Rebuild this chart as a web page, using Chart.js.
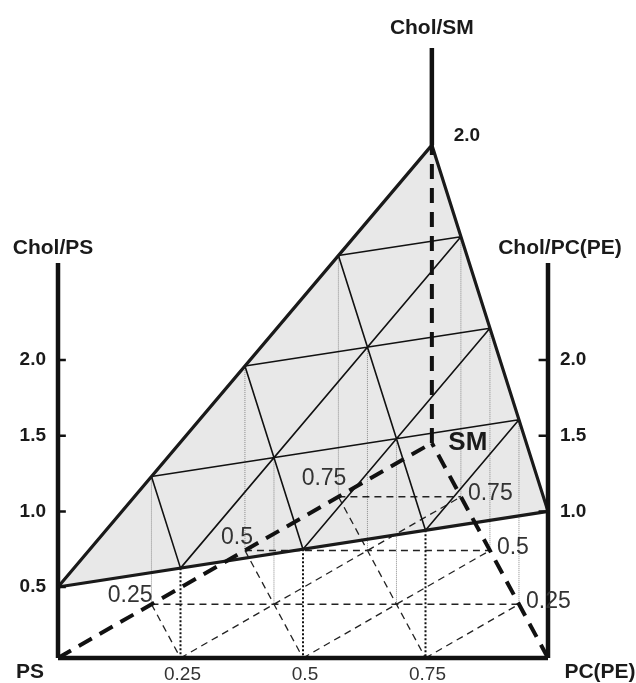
<!DOCTYPE html>
<html>
<head>
<meta charset="utf-8">
<script src="https://cdn.jsdelivr.net/npm/chart.js@4.4.1/dist/chart.umd.min.js"></script>
<style>
  html, body { margin: 0; padding: 0; background: #fff; }
  #wrap { width: 636px; height: 683px; }
</style>
</head>
<body>
<div id="wrap"><canvas id="chol-chart"></canvas></div>
<script>
// Chol/lipid ratio at the corners PS, PC(PE), SM
var cornerChol = [0.5, 1.0, 2.0];
// composition grid steps
var gridSteps = [0.25, 0.5, 0.75];
// tick values on the three Chol axes and the base
var psTicks = [0.5, 1.0, 1.5, 2.0];
var pcTicks = [1.0, 1.5, 2.0];
var smTicks = [2.0];
var baseTicks = [0.25, 0.5, 0.75];
var axisTop = 2.61;

// oblique drawing: shift and lift of the SM corner, and where Chol 0 sits (chart units)
var SM_DX = 0.763, SM_DY = 1.421, CHOL0 = -0.031;
var TICK = 0.016;
var PX_X = 490, PX_Y = 151.3;

function proj(p, s, h) { return { x: p + s * SM_DX, y: s * SM_DY + h }; }
function chol(p, s) { return cornerChol[0] * (1 - p - s) + cornerChol[1] * p + cornerChol[2] * s; }
function surf(p, s) { return proj(p, s, CHOL0 + chol(p, s)); }
function base(p, s) { return proj(p, s, 0); }
function onAxis(p, s, v) { return proj(p, s, CHOL0 + v); }

// join segments into one line with gaps
function segs(list) {
   var out = [];
   list.forEach(function (sg, i) {
      if (i > 0) out.push({ x: sg[0].x, y: null });
      out.push(sg[0], sg[1]);
   });
   return out;
}

var lightDots = [], darkDots = [], baseGrid = [], surfGrid = [];
gridSteps.forEach(function (g) {
   darkDots.push([surf(g, 0), base(g, 0)]);
   baseGrid.push([base(0, g), base(1 - g, g)]);
   baseGrid.push([base(g, 0), base(g, 1 - g)]);
   baseGrid.push([base(0, g), base(g, 0)]);
   surfGrid.push([surf(0, g), surf(1 - g, g)]);
   surfGrid.push([surf(g, 0), surf(g, 1 - g)]);
   surfGrid.push([surf(0, g), surf(g, 0)]);
   for (var p = 0; p <= 1 - g + 1e-9; p += 0.25) {
      lightDots.push([surf(p, g), base(p, g)]);
   }
});

var ticks = [];
psTicks.forEach(function (t) { var a = onAxis(0, 0, t); ticks.push([a, { x: a.x + TICK, y: a.y }]); });
pcTicks.forEach(function (t) { var a = onAxis(1, 0, t); ticks.push([a, { x: a.x - TICK * 1.2, y: a.y }]); });

function line(data, color, width, dash, extra) {
   var d = {
      data: data, borderColor: color, borderWidth: width, borderDash: dash || [],
      pointRadius: 0, fill: false, tension: 0, spanGaps: false
   };
   for (var k in extra) d[k] = extra[k];
   return d;
}

var surface = [surf(0, 0), surf(1, 0), surf(0, 1), surf(0, 0)];

// listed bottom layer first; Chart.js paints dataset 0 on top, so reverse
var layers = [
   line(surface, 'rgba(0,0,0,0)', 0, [], { fill: 'shape', backgroundColor: '#e8e8e8' }),
   line(segs(lightDots), '#8a8a8a', 1, [1, 1]),
   line(segs(darkDots), '#111', 2, [2, 2]),
   line(segs(baseGrid), '#222', 1.3, [7, 5]),
   line(segs(surfGrid), '#111', 1.6),
   line(surface, '#1a1a1a', 3.2),
   line(segs([[base(0, 0), base(0, 1)], [base(1, 0), base(0, 1)], [base(0, 1), surf(0, 1)]]), '#111', 4, [15, 9]),
   line(segs([
      [base(0, 0), proj(0, 0, axisTop)],
      [base(1, 0), proj(1, 0, axisTop)],
      [surf(0, 1), proj(0, 1, axisTop)],
      [base(0, 0), base(1, 0)]
   ]), '#111', 4.5),
   line(segs(ticks), '#111', 2.5)
];
var datasets = layers.slice().reverse();

var FONT = '"Liberation Sans", Arial, sans-serif';
var labels = [
   { t: 'Chol/SM', at: proj(0, 1, axisTop), dx: 0, dy: -20, f: 'bold 21px', a: 'center' },
   { t: 'Chol/PS', at: proj(0, 0, axisTop), dx: -5, dy: -15, f: 'bold 21px', a: 'center' },
   { t: 'Chol/PC(PE)', at: proj(1, 0, axisTop), dx: 12, dy: -15, f: 'bold 21px', a: 'center' },
   { t: 'PS', at: base(0, 0), dx: -28, dy: 14, f: 'bold 21px', a: 'center' },
   { t: 'PC(PE)', at: base(1, 0), dx: 52, dy: 14, f: 'bold 21px', a: 'center' },
   { t: 'SM', at: base(0, 1), dx: 36, dy: 0, f: 'bold 26px', a: 'center' },
   { t: '0.25', at: base(0, 0.25), dx: 1, dy: -9, f: '23px', a: 'right', c: '#333' },
   { t: '0.5', at: base(0, 0.5), dx: 8, dy: -13, f: '23px', a: 'right', c: '#333' },
   { t: '0.75', at: base(0, 0.75), dx: 8, dy: -18, f: '23px', a: 'right', c: '#333' }
];
gridSteps.forEach(function (g) {
   labels.push({ t: String(g), at: base(1 - g, g), dx: 7, dy: -3, f: '23px', a: 'left', c: '#333' });
});
psTicks.forEach(function (t) {
   labels.push({ t: t.toFixed(1), at: onAxis(0, 0, t), dx: -12, dy: 0, f: 'bold 19px', a: 'right' });
});
pcTicks.forEach(function (t) {
   labels.push({ t: t.toFixed(1), at: onAxis(1, 0, t), dx: 12, dy: 0, f: 'bold 19px', a: 'left' });
});
smTicks.forEach(function (t) {
   labels.push({ t: t.toFixed(1), at: onAxis(0, 1, t), dx: 35, dy: -9, f: 'bold 19px', a: 'center' });
});
baseTicks.forEach(function (t) {
   labels.push({ t: String(t), at: base(t, 0), dx: 2, dy: 17, f: '19px', a: 'center', c: '#333' });
});

var textPlugin = {
   id: 'diagramText',
   afterDraw: function (chart) {
      var ctx = chart.ctx, xs = chart.scales.x, ys = chart.scales.y;
      ctx.save();
      ctx.textBaseline = 'middle';
      labels.forEach(function (l) {
         ctx.font = l.f + ' ' + FONT;
         ctx.fillStyle = l.c || '#1a1a1a';
         ctx.textAlign = l.a;
         ctx.fillText(l.t, xs.getPixelForValue(l.at.x) + l.dx, ys.getPixelForValue(l.at.y) + l.dy);
      });
      ctx.restore();
   }
};

var chart = new Chart(document.getElementById('chol-chart'), {
   type: 'line',
   data: { datasets: datasets },
   plugins: [textPlugin],
   options: {
      responsive: true,
      maintainAspectRatio: false,
      animation: false,
      layout: { padding: 0 },
      plugins: { legend: { display: false }, tooltip: { enabled: false } },
      scales: {
         x: { type: 'linear', min: -58 / PX_X, max: 578 / PX_X, display: false },
         y: { type: 'linear', min: -25 / PX_Y, max: 658 / PX_Y, display: false }
      }
   }
});
</script>
</body>
</html>
